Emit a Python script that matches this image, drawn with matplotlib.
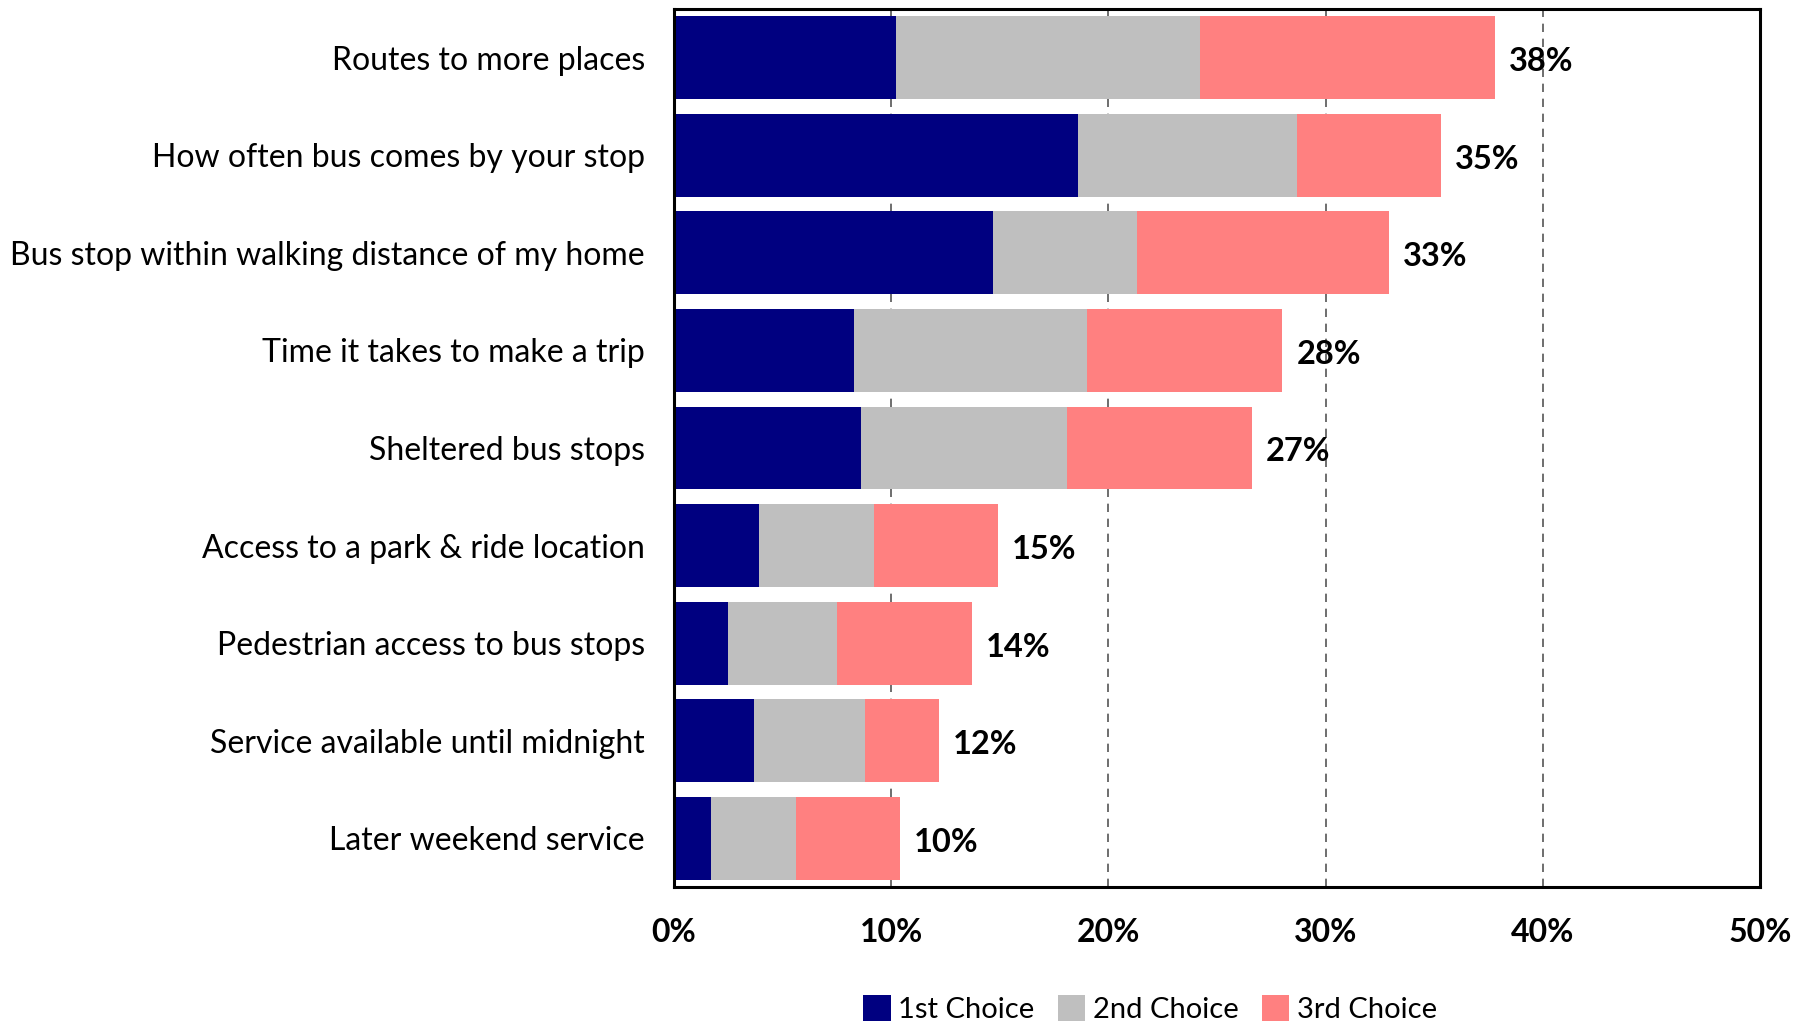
import matplotlib
matplotlib.use("Agg")
import matplotlib.pyplot as plt
from matplotlib.patches import Patch

categories = [
    "Routes to more places",
    "How often bus comes by your stop",
    "Bus stop within walking distance of my home",
    "Time it takes to make a trip",
    "Sheltered bus stops",
    "Access to a park & ride location",
    "Pedestrian access to bus stops",
    "Service available until midnight",
    "Later weekend service",
]
first_choice = [10.2, 18.6, 14.7, 8.3, 8.6, 3.9, 2.5, 3.7, 1.7]
second_choice = [14.0, 10.1, 6.6, 10.7, 9.5, 5.3, 5.0, 5.1, 3.9]
third_choice = [13.6, 6.6, 11.6, 9.0, 8.5, 5.7, 6.2, 3.4, 4.8]
series_names = ["1st Choice", "2nd Choice", "3rd Choice"]
x_ticks = [0, 10, 20, 30, 40, 50]

colors = ["#000080", "#BFBFBF", "#FF8080"]
font = "Lato"
plt.rcParams["font.family"] = [font, "DejaVu Sans"]

fig = plt.figure(figsize=(18.13, 10.23), dpi=100)
ax = fig.add_axes([674 / 1813, 1 - 887 / 1023, (1760 - 674) / 1813, (887 - 9) / 1023])

y = list(range(len(categories)))
left = [0.0] * len(categories)
for vals, c in zip([first_choice, second_choice, third_choice], colors):
    ax.barh(y, vals, left=left, height=0.85, color=c, zorder=2)
    left = [l + v for l, v in zip(left, vals)]

for yi, total in zip(y, left):
    ax.text(total + 0.65, yi + 0.04, f"{total:.0f}%", va="center", ha="left",
            fontsize=23.5, fontweight="bold", color="black", zorder=3)

ax.set_xlim(0, 50)
ax.set_ylim(len(categories) - 0.5, -0.5)
ax.set_yticks(y)
ax.set_yticklabels(categories, fontsize=23)
ax.set_xticks(x_ticks)
ax.set_xticklabels([f"{t}%" for t in x_ticks], fontsize=23, fontweight="bold")
ax.tick_params(axis="y", length=0, pad=21)
ax.tick_params(axis="x", length=0, pad=22)

for t in x_ticks[1:-1]:
    ax.axvline(t, color="#555555", linewidth=1.2, linestyle=(0, (5, 4)), zorder=1)

for s in ax.spines.values():
    s.set_linewidth(2.2)
    s.set_color("black")

handles = [Patch(facecolor=c, edgecolor="none") for c in colors]
fig.legend(handles, series_names, loc="center", bbox_to_anchor=(1150 / 1813, 1 - 1009 / 1023),
           ncol=3, frameon=False, fontsize=21, handlelength=0.95, handleheight=1.0,
           handletextpad=0.25, columnspacing=0.8)

fig.savefig("out.png", dpi=100)
